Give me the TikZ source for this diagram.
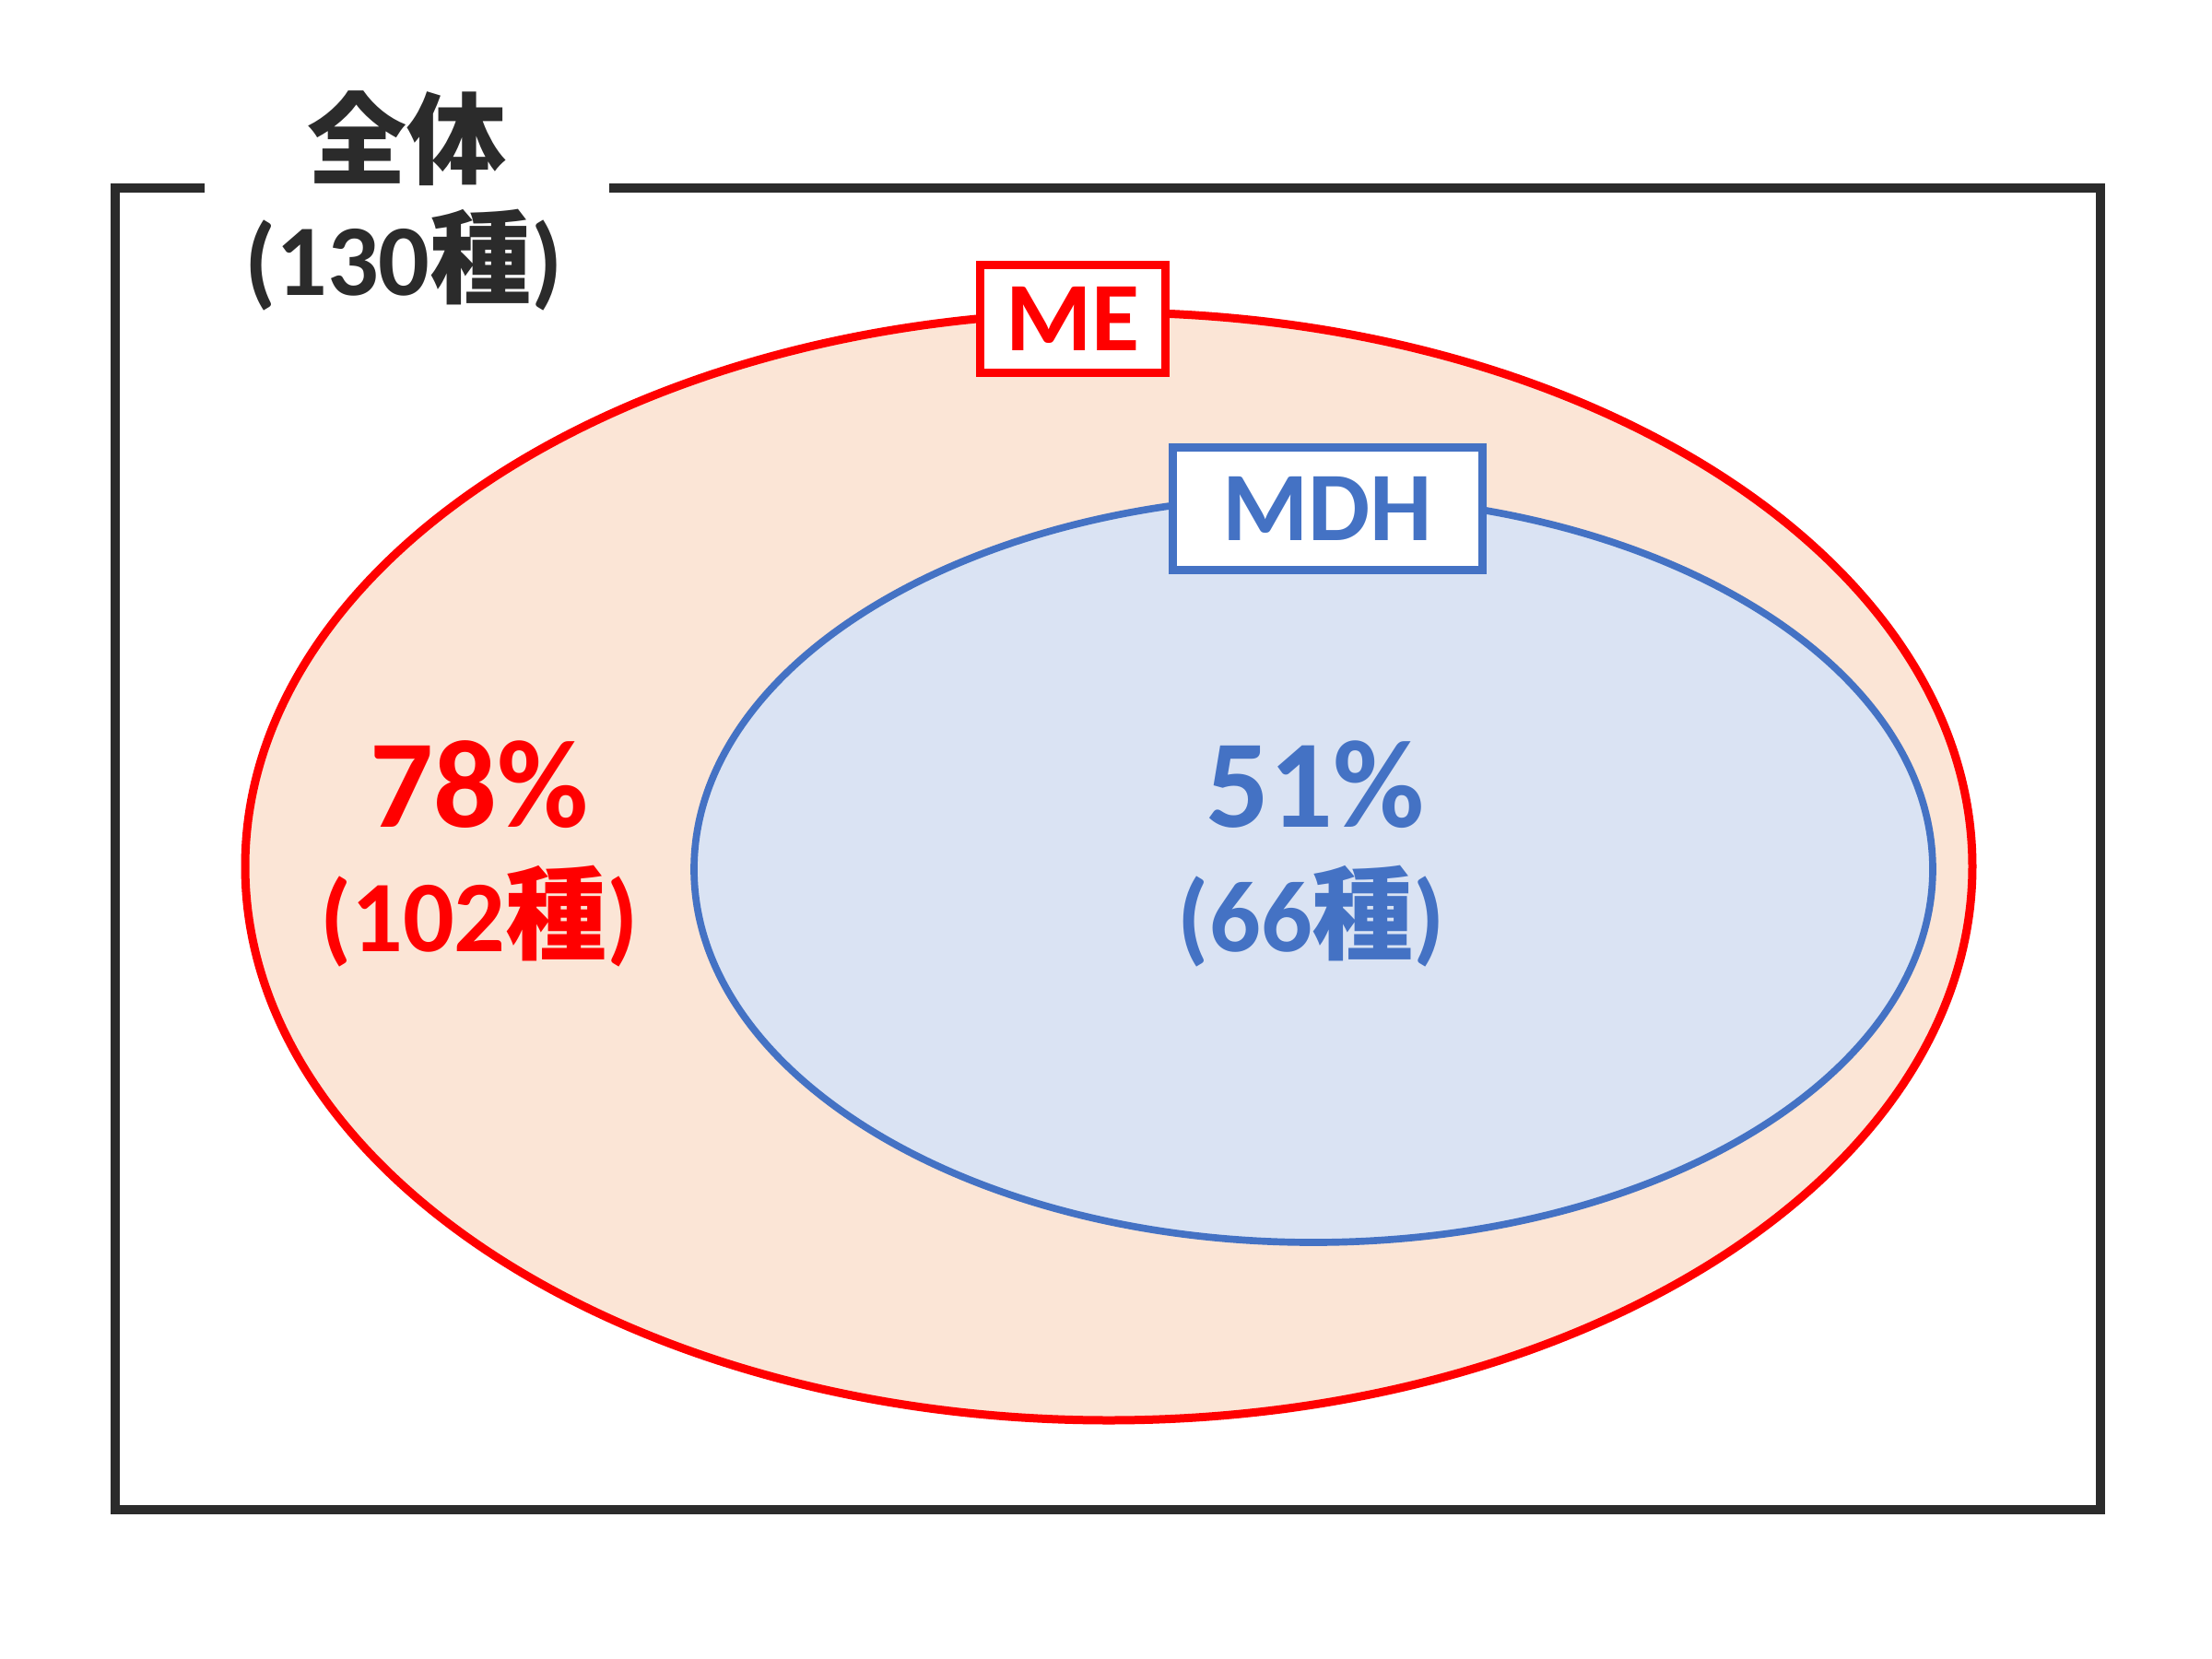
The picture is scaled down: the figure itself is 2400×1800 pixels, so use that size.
\documentclass[tikz,border=0pt]{standalone}
\usepackage{fontspec}
\setmainfont{Carlito}
\newfontfamily\cjk{Noto Sans CJK JP}
\definecolor{dk}{HTML}{2B2B2B}
\definecolor{redc}{HTML}{FF0000}
\definecolor{redf}{HTML}{FBE5D6}
\definecolor{bluec}{HTML}{4472C4}
\definecolor{bluef}{HTML}{DAE3F3}
\begin{document}
\begin{tikzpicture}[x=0.3pt,y=-0.3pt,
  big/.style={inner sep=0pt, anchor=base, font=\bfseries\fontsize{40.8pt}{48pt}\selectfont},
  mid/.style={inner sep=0pt, anchor=base, font=\bfseries\fontsize{33pt}{40pt}\selectfont},
  tag/.style={fill=white, line width=2.7pt, inner sep=0pt, font=\bfseries\fontsize{32pt}{38pt}\selectfont}]
\useasboundingbox (0,0) rectangle (2400,1800);
\fill[white] (0,0) rectangle (2400,1800);
% outer frame
\coordinate (gapR) at (661,204);
\coordinate (tr) at (2279,204);
\coordinate (br) at (2279,1638);
\coordinate (bl) at (125,1638);
\coordinate (tl) at (125,204);
\coordinate (gapL) at (222,204);
\draw[dk, line width=3pt, line join=miter] (gapR) -- (tr) -- (br) -- (bl) -- (tl) -- (gapL);
% ellipses
\coordinate (mec) at (1203,940);
\coordinate (mdhc) at (1425,943);
\draw[redc, fill=redf, line width=2.7pt] (mec) ellipse [x radius=281.1pt, y radius=180.3pt];
\draw[bluec, fill=bluef, line width=2.3pt] (mdhc) ellipse [x radius=201.6pt, y radius=121.5pt];
% tags
\node[tag, draw=redc, text=redc, minimum width=60.3pt, minimum height=35.1pt] (me) at (1164,346) {ME};
\node[tag, draw=bluec, text=bluec, minimum width=100.8pt, minimum height=39.9pt] (mdh) at (1440,552) {MDH};
% labels
\node[inner sep=0pt, text=dk, font=\cjk\bfseries\fontsize{32.4pt}{38pt}\selectfont] (all) at (441,150) {全体};
\node[mid, text=dk] (alln) at (438,320) {(130{\cjk 種})};
\node[big, text=redc] (mep) at (520,897) {78\%};
\node[mid, text=redc] (men) at (520,1032) {(102{\cjk 種})};
\node[big, text=bluec] (mdhp) at (1427,897) {51\%};
\node[mid, text=bluec] (mdhn) at (1423,1032) {(66{\cjk 種})};
\end{tikzpicture}
\end{document}
